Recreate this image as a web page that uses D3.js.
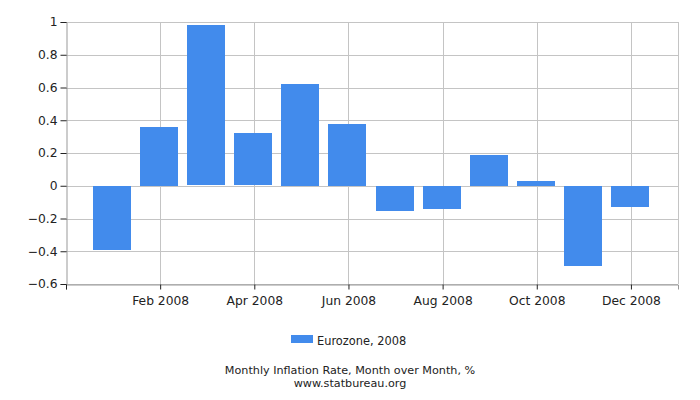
<!DOCTYPE html>
<html>
<head>
<meta charset="utf-8">
<script src="https://cdn.jsdelivr.net/npm/d3@7"></script>
<style>
  body { margin: 0; background: #fff; }
  text { font-family: "DejaVu Sans", sans-serif; fill: #222; }
</style>
</head>
<body>
<svg id="chart" width="700" height="400"></svg>
<script>
const months = ["Jan 2008", "Feb 2008", "Mar 2008", "Apr 2008", "May 2008", "Jun 2008",
                "Jul 2008", "Aug 2008", "Sep 2008", "Oct 2008", "Nov 2008", "Dec 2008"];
const values = [-0.39, 0.36, 0.98, 0.32, 0.62, 0.38, -0.15, -0.14, 0.19, 0.03, -0.49, -0.13];
const yTicks = [-0.6, -0.4, -0.2, 0, 0.2, 0.4, 0.6, 0.8, 1];
const labelledMonths = ["Feb 2008", "Apr 2008", "Jun 2008", "Aug 2008", "Oct 2008", "Dec 2008"];
const seriesName = "Eurozone, 2008";
const titleLines = ["Monthly Inflation Rate, Month over Month, %", "www.statbureau.org"];

const svg = d3.select("#chart");
const plotLeft = 66, plotRight = 678, plotTop = 22, plotBottom = 284;
const barColor = "#428bec";

// months sit at 1..12, half a month of padding each side
const x = d3.scaleLinear().domain([0, months.length + 1]).range([plotLeft, plotRight]);
const y = d3.scaleLinear().domain([-0.6, 1]).range([plotBottom, plotTop]);
const barWidth = 38;

// horizontal grid
svg.append("g")
    .selectAll("line")
    .data(yTicks)
    .join("line")
    .attr("x1", plotLeft).attr("x2", plotRight)
    .attr("y1", d => Math.round(y(d)) + 0.5).attr("y2", d => Math.round(y(d)) + 0.5)
    .attr("stroke", "#c4c4c4");

// vertical grid
svg.append("g")
    .selectAll("line")
    .data(labelledMonths)
    .join("line")
    .attr("x1", d => Math.round(x(months.indexOf(d) + 1)) + 0.5)
    .attr("x2", d => Math.round(x(months.indexOf(d) + 1)) + 0.5)
    .attr("y1", plotTop).attr("y2", plotBottom)
    .attr("stroke", "#c4c4c4");

// right border
svg.append("line")
    .attr("x1", plotRight + 0.5).attr("x2", plotRight + 0.5)
    .attr("y1", plotTop).attr("y2", plotBottom)
    .attr("stroke", "#c4c4c4");

// bars
svg.append("g")
    .selectAll("rect")
    .data(values)
    .join("rect")
    .attr("x", (d, i) => Math.round(x(i + 1) - barWidth / 2) - 1)
    .attr("width", barWidth)
    .attr("y", d => Math.round(y(Math.max(0, d))))
    .attr("height", d => Math.round(Math.abs(y(d) - y(0))))
    .attr("fill", barColor);

// y axis
const yAxis = svg.append("g")
    .attr("transform", `translate(${plotLeft + 0.5},0)`)
    .call(d3.axisLeft(y).tickValues(yTicks).tickSize(6).tickPadding(3)
        .tickFormat(d => d3.format("")(Math.round(d * 10) / 10)));
yAxis.selectAll("text").style("font-size", "12.3px").attr("fill", "#222");
yAxis.select(".domain").attr("stroke", "#999");
yAxis.selectAll(".tick line").attr("stroke", "#222");

// x axis
const xAxis = svg.append("g")
    .attr("transform", `translate(0,${plotBottom + 0.5})`)
    .call(d3.axisBottom(x)
        .tickValues([0].concat(labelledMonths.map(m => months.indexOf(m) + 1)))
        .tickSize(5).tickPadding(7)
        .tickFormat(d => d === 0 ? "" : months[d - 1]));
xAxis.selectAll("text").style("font-size", "12.3px").attr("fill", "#222");
xAxis.select(".domain").attr("stroke", "#999");
xAxis.selectAll(".tick line").attr("stroke", "#222");

// legend
svg.append("rect")
    .attr("x", 291).attr("y", 335).attr("width", 22).attr("height", 8)
    .attr("fill", barColor);
svg.append("text")
    .attr("x", 317).attr("y", 345)
    .style("font-size", "11.4px")
    .text(seriesName);

// caption
svg.append("g")
    .selectAll("text")
    .data(titleLines)
    .join("text")
    .attr("x", 350)
    .attr("y", (d, i) => 374 + i * 13)
    .attr("text-anchor", "middle")
    .style("font-size", "11.2px")
    .text(d => d);
</script>
</body>
</html>
